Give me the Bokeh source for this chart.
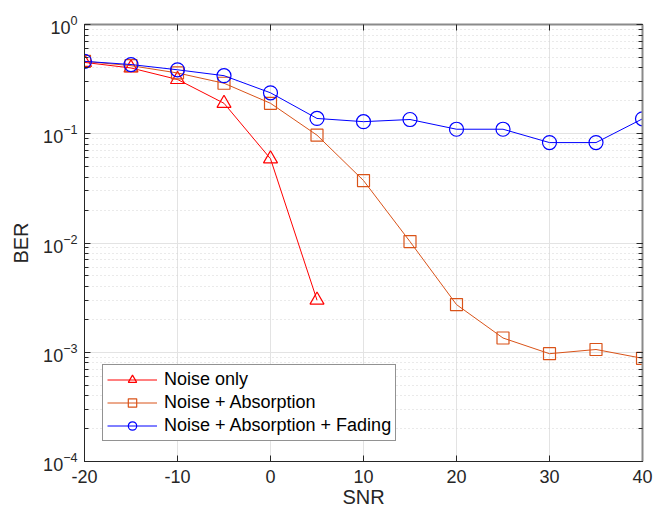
from bokeh.plotting import figure
from bokeh.models import (LogAxis, LinearAxis, Legend, LegendItem, FixedTicker, LogTicker,
                          Range1d, PrintfTickFormatter)
from bokeh.embed import file_html
from bokeh.resources import INLINE

# SNR sweep (dB) and measured bit error rates
snr_noise = [-20, -15, -10, -5, 0, 5]
ber_noise = [0.45, 0.40, 0.314, 0.19, 0.059, 0.0030]

snr_all = [-20, -15, -10, -5, 0, 5, 10, 15, 20, 25, 30, 35, 40]
ber_absorption = [0.46, 0.42, 0.36, 0.29, 0.19, 0.097, 0.0373, 0.0103,
                  0.00273, 0.00135, 0.00097, 0.00106, 0.00088]
ber_fading = [0.46, 0.43, 0.385, 0.34, 0.237, 0.138, 0.129, 0.135,
              0.110, 0.110, 0.083, 0.083, 0.137]

x_ticks = [-20, -10, 0, 10, 20, 30, 40]
y_decades = [1e-4, 1e-3, 1e-2, 1e-1, 1]
series_labels = ["Noise only", "Noise + Absorption", "Noise + Absorption + Fading"]

RED = "#FF0000"
ORANGE = "#D95319"
BLUE = "#0000FF"
AXIS_DARK = "#262626"
FONT = "Liberation Sans"

p = figure(
    width=654, height=520,
    frame_width=558, frame_height=437,
    y_axis_type="log",
    x_range=Range1d(-20, 40), y_range=Range1d(1e-4, 1),
    output_backend="svg", toolbar_location=None,
    min_border_left=84, min_border_right=12, min_border_top=24, min_border_bottom=59,
)
p.background_fill_color = "white"
p.border_fill_color = "white"
p.outline_line_color = None

# bottom axis
xa = p.xaxis[0]
xa.ticker = FixedTicker(ticks=x_ticks)
xa.formatter = PrintfTickFormatter(format="%d")
xa.axis_label = "SNR"
xa.axis_label_text_font = FONT
xa.axis_label_text_font_style = "normal"
xa.axis_label_text_font_size = "20px"
xa.axis_label_text_color = AXIS_DARK
xa.axis_label_standoff = 0
xa.major_label_text_font = FONT
xa.major_label_text_font_size = "18px"
xa.major_label_text_color = AXIS_DARK
xa.major_label_standoff = 8
xa.major_tick_in = 6
xa.major_tick_out = 0
xa.minor_tick_line_color = None
xa.axis_line_color = AXIS_DARK
xa.major_tick_line_color = AXIS_DARK

# left axis
ya = p.yaxis[0]
ya.ticker = LogTicker(num_minor_ticks=10)
ya.axis_label = "BER"
ya.axis_label_text_font = FONT
ya.axis_label_text_font_style = "normal"
ya.axis_label_text_font_size = "20px"
ya.axis_label_text_color = AXIS_DARK
ya.axis_label_standoff = 8
ya.major_label_text_font = FONT
ya.major_label_text_font_size = "18px"
ya.major_label_text_color = AXIS_DARK
ya.major_label_standoff = 7
ya.major_tick_in = 6
ya.major_tick_out = 0
ya.minor_tick_in = 4
ya.minor_tick_out = 0
ya.axis_line_color = AXIS_DARK
ya.major_tick_line_color = AXIS_DARK
ya.minor_tick_line_color = AXIS_DARK

# box edges with inward ticks and blank labels
top = LinearAxis(ticker=FixedTicker(ticks=x_ticks),
                 major_label_overrides={t: "" for t in x_ticks},
                 major_tick_in=6, major_tick_out=0, minor_tick_line_color=None,
                 axis_line_color="#8a8a8a", axis_line_width=2,
                 major_tick_line_color=AXIS_DARK, major_label_standoff=0)
right = LogAxis(ticker=LogTicker(num_minor_ticks=10),
                major_label_overrides={t: "" for t in y_decades},
                major_tick_in=6, major_tick_out=0, minor_tick_in=4, minor_tick_out=0,
                axis_line_color="#8a8a8a", axis_line_width=2,
                major_tick_line_color=AXIS_DARK, minor_tick_line_color=AXIS_DARK,
                major_label_standoff=0)
p.add_layout(top, "above")
p.add_layout(right, "right")

# grids
p.xgrid.ticker = FixedTicker(ticks=x_ticks)
p.xgrid.grid_line_color = "#e3e3e3"
p.ygrid.grid_line_color = "#e3e3e3"
p.ygrid.minor_grid_line_color = "#d4d4d4"
p.ygrid.minor_grid_line_dash = "1 3"
p.ygrid.grid_line_width = 1

# series
l1 = p.line(snr_noise, ber_noise, line_color=RED, line_width=1)
m1 = p.scatter(snr_noise, ber_noise, marker="triangle", size=14,
               line_color=RED, fill_color=None, line_width=1.2)
l2 = p.line(snr_all, ber_absorption, line_color=ORANGE, line_width=1)
m2 = p.scatter(snr_all, ber_absorption, marker="square", size=12,
               line_color=ORANGE, fill_color=None, line_width=1.2)
l3 = p.line(snr_all, ber_fading, line_color=BLUE, line_width=1)
m3 = p.scatter(snr_all, ber_fading, marker="circle", size=14,
               line_color=BLUE, fill_color=None, line_width=1.2)

legend = Legend(
    items=[
        LegendItem(label=series_labels[0], renderers=[l1, m1]),
        LegendItem(label=series_labels[1], renderers=[l2, m2]),
        LegendItem(label=series_labels[2], renderers=[l3, m3]),
    ],
    location=(18, 20),
    glyph_width=50, glyph_height=21, label_height=21,
    spacing=2, padding=4, margin=0,
    label_text_font=FONT, label_text_font_size="18px", label_text_color="black",
    label_standoff=7,
    border_line_color=AXIS_DARK, border_line_width=1,
    background_fill_color="white", background_fill_alpha=1,
)
p.add_layout(legend)

open("out.html", "w").write(file_html(p, INLINE))
